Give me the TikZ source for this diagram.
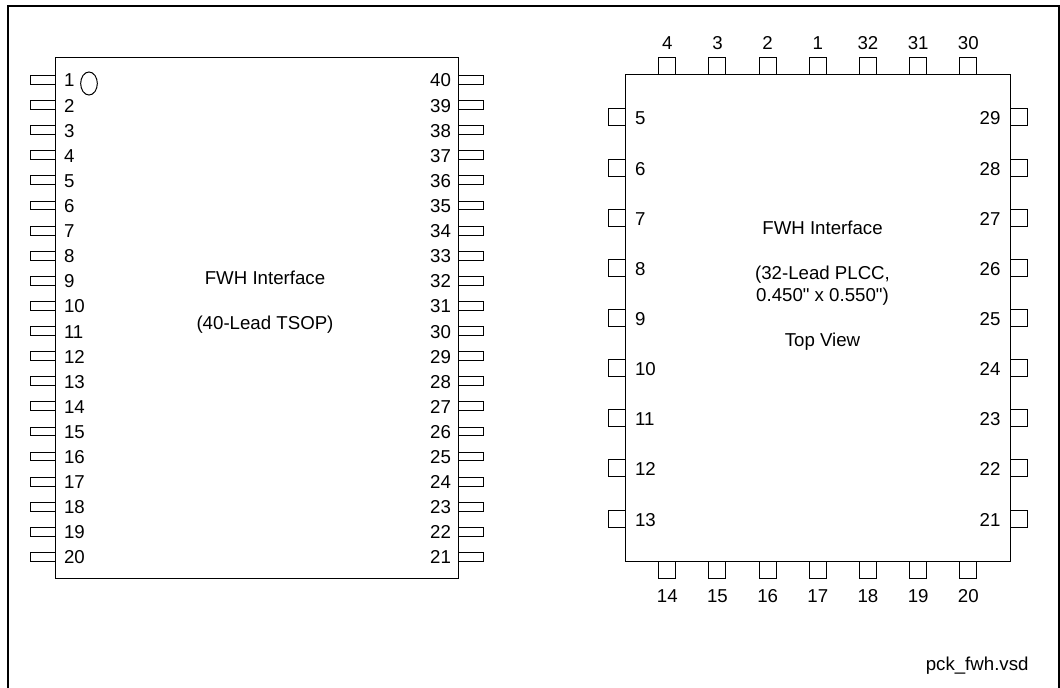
\documentclass[tikz,border=0pt]{standalone}
\usepackage{fontspec}
\usetikzlibrary{shapes.geometric}
\setmainfont{Liberation Sans}
\newfontfamily\plainsans{Liberation Sans}
\tikzset{
  frameline/.style={draw=black,line width=1.5pt},
  body/.style={draw=black,line width=0.75pt,fill=white,inner sep=0pt,outer sep=0pt},
  tsoppin/.style={draw=black,line width=0.75pt,fill=white,inner sep=0pt,outer sep=0pt,minimum width=18.75pt,minimum height=6.6pt},
  plccpin/.style={draw=black,line width=0.75pt,fill=white,inner sep=0pt,outer sep=0pt,minimum size=12.75pt},
  lbl/.style={font=\plainsans\fontsize{14pt}{16pt}\selectfont,inner sep=0pt,outer sep=0pt,text=black},
  ctr/.style={lbl,anchor=base}
}
\begin{document}
\begin{tikzpicture}[x=0.75pt,y=-0.75pt]
\useasboundingbox (0,0) rectangle (1060,688);
\coordinate (fbl) at (8,688);
\coordinate (ftl) at (8,6);
\coordinate (ftr) at (1058.5,6);
\coordinate (fbr) at (1058.5,688);
\draw[frameline] (fbl) -- (ftl) -- (ftr) -- (fbr);
% TSOP pins
\foreach \i [evaluate=\i as \y using {80+25.1*(\i-1)}] in {1,...,20}{
  \node[tsoppin] (tl\i) at (42.5,\y) {};
  \node[tsoppin] (tr\i) at (470.5,\y) {};
}
\node[body,minimum width=302.25pt,minimum height=390pt] (tsop) at (256.75,318) {};
\foreach \i [evaluate=\i as \y using {80+25.1*(\i-1)}, evaluate=\i as \n using {int(41-\i)}] in {1,...,20}{
  \node[lbl,anchor=base west] (tlm\i) at (64,\y+7) {\i};
  \node[lbl,anchor=base east] (trm\i) at (451,\y+7) {\n};
}
\node[draw=black,line width=0.75pt,ellipse,inner sep=0pt,minimum width=12.5pt,minimum height=17.25pt] (dot) at (89,83.5) {};
\node[ctr] (t1) at (265,284) {FWH Interface};
\node[ctr] (t2) at (265,329.3) {(40-Lead TSOP)};
% PLCC pins
\foreach \n [count=\k from 0, evaluate=\k as \x using {667.3+50.17*\k}] in {4,3,2,1,32,31,30}{
  \node[plccpin] (pt\k) at (\x,66.5) {};
  \node[lbl,anchor=base] (ptn\k) at (\x,49.5) {\n};
}
\foreach \n [count=\k from 0, evaluate=\k as \x using {667.3+50.17*\k}] in {14,15,16,17,18,19,20}{
  \node[plccpin] (pb\k) at (\x,569.5) {};
  \node[lbl,anchor=base] (pbn\k) at (\x,602) {\n};
}
\foreach \n [count=\k from 0, evaluate=\k as \y using {117.5+50.13*\k}] in {5,6,7,8,9,10,11,12,13}{
  \node[plccpin] (pl\k) at (617,\y) {};
}
\foreach \n [count=\k from 0, evaluate=\k as \y using {117.5+50.13*\k}] in {29,28,27,26,25,24,23,22,21}{
  \node[plccpin] (pr\k) at (1018.5,\y) {};
}
\node[body,minimum width=288.75pt,minimum height=364.5pt] (plcc) at (818,318) {};
\foreach \n [count=\k from 0, evaluate=\k as \y using {125+50.13*\k}] in {5,6,7,8,9,10,11,12,13}{
  \node[lbl,anchor=base west] (pln\k) at (635,\y) {\n};
}
\foreach \n [count=\k from 0, evaluate=\k as \y using {125+50.13*\k}] in {29,28,27,26,25,24,23,22,21}{
  \node[lbl,anchor=base east] (prn\k) at (1000.5,\y) {\n};
}
\node[ctr] (p1) at (822.5,234) {FWH Interface};
\node[ctr] (p2) at (822.5,279) {(32-Lead PLCC,};
\node[ctr] (p3) at (822.5,301.7) {0.450" x 0.550")};
\node[ctr] (p4) at (822.5,346) {Top View};
\node[lbl,anchor=base east] (fn) at (1028.5,670) {pck\_fwh.vsd};
\end{tikzpicture}
\end{document}
